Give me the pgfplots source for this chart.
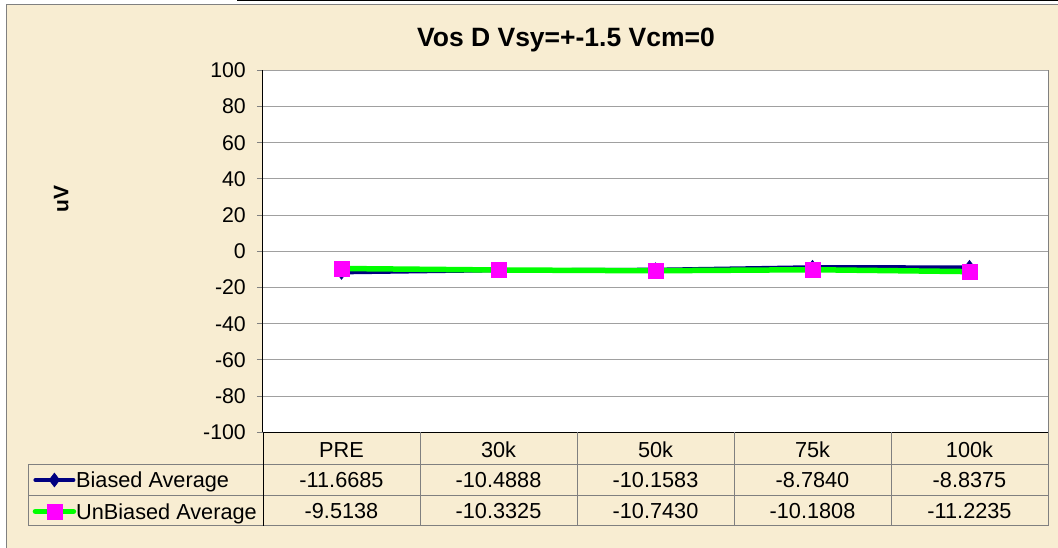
\documentclass[border=0pt]{standalone}
\usepackage{pgfplots}
\pgfplotsset{compat=1.18}
\usepackage{fontspec}
\setmainfont{Liberation Sans}
\definecolor{bg}{RGB}{248,237,210}
\definecolor{navyc}{RGB}{0,0,128}
\definecolor{greenc}{RGB}{0,255,0}
\definecolor{magc}{RGB}{255,0,255}
\definecolor{gridc}{RGB}{160,160,160}
\definecolor{bordc}{RGB}{128,128,128}
\begin{document}
\begin{tikzpicture}[x=1pt,y=1pt]
\path[use as bounding box] (0,0) rectangle (1058,548);
\fill[bg] (6,0) rectangle (1058,543.7);
\draw[bordc, line width=1pt] (6,0) -- (6,543.7) -- (1058,543.7);
\draw[black, line width=1.5pt] (237,547.4) -- (1058,547.4);
% title and y label
\node[anchor=base, font=\fontsize{26.5}{30}\selectfont\bfseries, inner sep=0pt] at (566,501.3) {Vos D Vsy=+-1.5 Vcm=0};
\node[anchor=base, rotate=90, font=\fontsize{21}{25}\selectfont\bfseries, inner sep=0pt] at (68.3,349) {uV};
\begin{axis}[
  at={(263pt,115.7pt)}, anchor=south west,
  scale only axis, width=785pt, height=362pt,
  xmin=-0.5, xmax=4.5, ymin=-100, ymax=100,
  xtick=\empty,
  ytick={-100,-80,...,100},
  ymajorgrids, major grid style={gridc, line width=1pt},
  axis x line*=bottom, axis y line*=left,
  axis line style={-, black, line width=1pt},
  tick align=outside, major tick length=6pt,
  tick style={bordc, line width=1pt},
  yticklabel style={font=\fontsize{21.3}{25}\selectfont, inner xsep=0pt, xshift=-11pt},
  /pgf/number format/assume math mode=true,
  axis background/.style={fill=white},
  clip=false,
  legend cell align=left,
  legend style={at={(axis description cs:-0.2934,-0.0884)}, anchor=north west,
    draw=none, fill=none, inner sep=0pt, outer sep=0pt, row sep=0pt, column sep=0pt,
    font=\fontsize{21.7}{25}\selectfont,
    nodes={inner xsep=0pt, inner ysep=0pt, minimum height=31.4pt, text depth=0pt}},
  legend image code/.code={\draw[mark repeat=2, mark phase=2, line cap=round, #1] plot coordinates {(0pt,0pt) (19pt,0pt) (38pt,0pt)};},
]
\addplot[navyc, line width=4pt, mark=diamond*, mark size=7pt,
  mark options={solid, fill=navyc, draw=navyc, line width=0.5pt}]
  coordinates {(0,-11.6685) (1,-10.4888) (2,-10.1583) (3,-8.7840) (4,-8.8375)};
\addlegendentry{Biased Average}
\addplot[greenc, line width=5.5pt, mark=square*, mark size=7.5pt,
  mark options={solid, fill=magc, draw=magc, line width=0.5pt}]
  coordinates {(0,-9.5138) (1,-10.3325) (2,-10.7430) (3,-10.1808) (4,-11.2235)};
\addlegendentry{UnBiased Average}
\end{axis}
% data table
\draw[bordc, line width=1pt] (28,83.7) -- (1048,83.7);
\draw[bordc, line width=1pt] (28,52.3) -- (1048,52.3);
\draw[bordc, line width=1pt] (28,22.3) -- (1048,22.3);
\draw[bordc, line width=1pt] (28,83.7) -- (28,22.3);
\draw[black, line width=1pt] (263,115.7) -- (263,22.3);
\foreach \xx in {420,577,734,891}{\draw[bordc, line width=1pt] (\xx,115.7) -- (\xx,22.3);}
\draw[bordc, line width=1pt] (1048,477.7) -- (1048,22.3);
\draw[gridc, line width=1pt] (263,477.7) -- (1048,477.7);
\begin{scope}[every node/.style={anchor=base, inner sep=0pt, font=\fontsize{21.7}{25}\selectfont}]
\node at (341.5,90.3) {PRE};
\node at (498.5,90.3) {30k};
\node at (655.5,90.3) {50k};
\node at (812.5,90.3) {75k};
\node at (969.5,90.3) {100k};
\node at (341.5,60.7) {-11.6685};
\node at (498.5,60.7) {-10.4888};
\node at (655.5,60.7) {-10.1583};
\node at (812.5,60.7) {-8.7840};
\node at (969.5,60.7) {-8.8375};
\node at (341.5,29.7) {-9.5138};
\node at (498.5,29.7) {-10.3325};
\node at (655.5,29.7) {-10.7430};
\node at (812.5,29.7) {-10.1808};
\node at (969.5,29.7) {-11.2235};
\end{scope}
\end{tikzpicture}
\end{document}
